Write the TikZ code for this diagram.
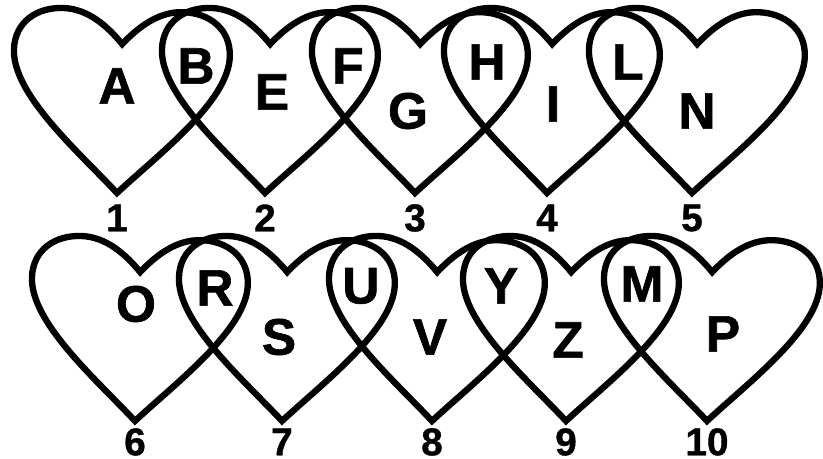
\documentclass[tikz,border=0pt]{standalone}
\usepackage{fontspec}
\setmainfont{Liberation Sans}
\usetikzlibrary{positioning}
\tikzset{
  every picture/.style={line width=1.8pt},
  heartline/.style={draw=black, line width=1.8pt},
  letter/.style={inner sep=0pt, font=\fontsize{14.6}{16}\selectfont\bfseries\addfontfeatures{FakeBold=1.2}},
  number/.style={inner sep=0pt, font=\fontsize{11}{12}\selectfont\bfseries\addfontfeatures{FakeBold=1}},
  heart/.pic={
    \draw[heartline] (0,0) .. controls (-40,40) and (-108,95) .. (-108,140)
      .. controls (-108,168) and (-86,183) .. (-60,183)
      .. controls (-35,183) and (-15,166) .. (0,149)
      .. controls (15,166) and (35,183) .. (60,183)
      .. controls (86,183) and (108,168) .. (108,140)
      .. controls (108,95) and (40,40) .. cycle;
  },
}
\begin{document}
\begin{tikzpicture}[x=0.01cm, y=0.01cm]
  \useasboundingbox (0,0) rectangle (823,459);
  % top row
  \foreach \tx/\num in {117/1, 265/2, 415/3, 547/4, 692/5} {
    \pic[rotate=-2] at (\tx,266) {heart};
    \node[number] (n\num) at (\tx,241) {\num};
  }
  % bottom row
  \foreach \tx/\num in {135/6, 282/7, 432/8, 566/9, 707/10} {
    \pic[rotate=-2] at (\tx,38) {heart};
    \node[number] (n\num) at (\tx,17) {\num};
  }
  % letters
  \foreach \ch/\lx/\ly in {A/117/373, B/196/393, E/272/367, F/348/393, G/408/348,
      H/487/397, I/553/355, L/628/397, N/697/348,
      O/136/155, R/215/171, S/279/122, U/361/173, V/430/122, Y/501/173,
      Z/568/119, M/642/175, P/723/125} {
    \node[letter] (\ch) at (\lx,\ly) {\ch};
  }
\end{tikzpicture}
\end{document}
